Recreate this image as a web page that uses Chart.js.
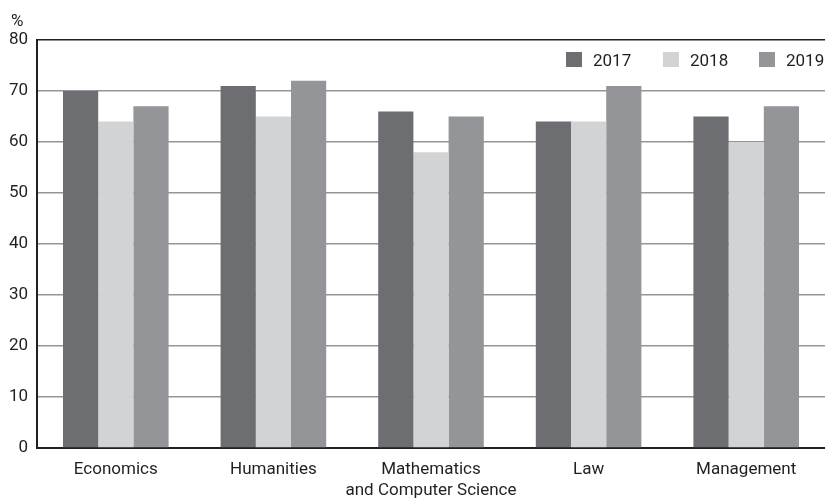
<!DOCTYPE html>
<html>
<head>
<meta charset="utf-8">
<script src="https://cdn.jsdelivr.net/npm/chart.js@4"></script>
<style>
  html, body { margin: 0; padding: 0; background: #fff; }
  #wrap { width: 825px; height: 500px; }
</style>
</head>
<body>
<div id="wrap"><canvas id="chart" width="825" height="500"></canvas></div>
<script>
const categories = ['Economics', 'Humanities', ['Mathematics', 'and Computer Science'], 'Law', 'Management'];
const years = ['2017', '2018', '2019'];
const values2017 = [70, 71, 66, 64, 65];
const values2018 = [64, 65, 58, 64, 60];
const values2019 = [67, 72, 65, 71, 67];
const yTicks = [0, 10, 20, 30, 40, 50, 60, 70, 80];

const colors = ['#6d6e71', '#d1d3d4', '#939598'];
const FONT = 'Roboto, sans-serif';
const FSIZE = 17;
const TEXT = '#231f20';
const fontStr = FSIZE + 'px ' + FONT;

// "%" over the y axis and the legend inside the top right of the plot
const extras = {
  id: 'extras',
  afterDraw(chart) {
    const ctx = chart.ctx;
    const area = chart.chartArea;
    ctx.save();
    ctx.font = fontStr;
    ctx.fillStyle = TEXT;
    ctx.textBaseline = 'alphabetic';
    ctx.textAlign = 'left';
    ctx.fillText('%', 11, 26);

    const boxX = [566, 663, 759];
    chart.data.datasets.forEach((ds, i) => {
      ctx.fillStyle = ds.backgroundColor;
      ctx.fillRect(boxX[i], area.top + 12, 16, 15);
      ctx.fillStyle = TEXT;
      ctx.fillText(ds.label, boxX[i] + 27, area.top + 26);
    });
    ctx.restore();
  }
};

new Chart(document.getElementById('chart').getContext('2d'), {
  type: 'bar',
  data: {
    labels: categories,
    datasets: [
      { label: years[0], data: values2017, backgroundColor: colors[0] },
      { label: years[1], data: values2018, backgroundColor: colors[1] },
      { label: years[2], data: values2019, backgroundColor: colors[2] }
    ]
  },
  options: {
    responsive: false,
    animation: false,
    devicePixelRatio: 1,
    layout: { padding: { top: 40, right: 0, bottom: 0, left: 0 } },
    datasets: {
      bar: { categoryPercentage: 0.67, barPercentage: 1.0, borderWidth: 0 }
    },
    plugins: {
      legend: { display: false },
      tooltip: { enabled: false }
    },
    scales: {
      x: {
        grid: { display: false, drawTicks: false },
        border: { color: '#231f20', width: 2 },
        ticks: {
          color: TEXT,
          padding: 11,
          maxRotation: 0,
          autoSkip: false,
          font: { family: FONT, size: FSIZE, lineHeight: 1.25 }
        },
        afterFit(scale) { scale.height = 52; }
      },
      y: {
        min: 0,
        max: 80,
        afterBuildTicks(scale) { scale.ticks = yTicks.map(v => ({ value: v })); },
        grid: {
          drawTicks: false,
          lineWidth: 1.5,
          color: ctx => (ctx.tick && ctx.tick.value === 80) ? '#231f20' : '#939598'
        },
        border: { color: '#231f20', width: 2 },
        ticks: {
          color: TEXT,
          padding: 9,
          font: { family: FONT, size: FSIZE }
        },
        afterFit(scale) { scale.width = 37; }
      }
    }
  },
  plugins: [extras]
});
</script>
</body>
</html>
